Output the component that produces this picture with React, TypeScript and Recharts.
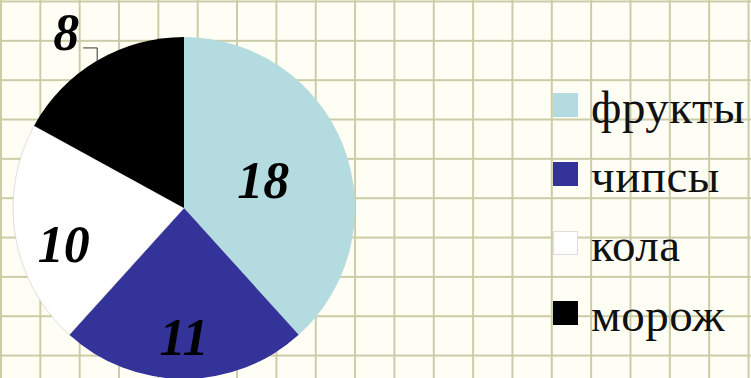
import { Cell, Legend, Pie, PieChart } from "recharts";

const categories = ["фрукты", "чипсы", "кола", "морож"];
const values = [18, 11, 10, 8];
const colors = ["#b4dce0", "#333399", "#ffffff", "#000000"];

const data = categories.map((name, i) => ({ name, value: values[i] }));

const RADIAN = Math.PI / 180;
// radius factor and angle nudge for each value label
const labelPlacement = [
  { r: 0.49, da: -2 },
  { r: 0.76, da: 0 },
  { r: 0.735, da: 7.5 },
  { r: 1.234, da: 3.3 },
];

function renderLabel(props: any) {
  const { cx, cy, midAngle, outerRadius, index, value } = props;
  const p = labelPlacement[index];
  const a = (midAngle + p.da) * RADIAN;
  const x = cx + outerRadius * p.r * Math.cos(a);
  const y = cy - outerRadius * p.r * Math.sin(a);
  return (
    <g key={`lbl-${index}`}>
      {index === 3 && (
        <polyline
          points={`${x + 17},${y + 15} ${x + 31},${y + 15} ${x + 31},${y + 29}`}
          fill="none"
          stroke="#333"
          strokeWidth={1}
        />
      )}
      <text
        x={x}
        y={y}
        textAnchor="middle"
        dominantBaseline="central"
        fontFamily="'Liberation Serif', 'Times New Roman', serif"
        fontWeight="bold"
        fontStyle="italic"
        fontSize={52}
        fill="#000"
      >
        {value}
      </text>
    </g>
  );
}

function renderLegend() {
  return (
    <div style={{ fontFamily: "'Liberation Serif', 'Times New Roman', serif" }}>
      {categories.map((name, i) => (
        <div
          key={name}
          style={{ display: "flex", alignItems: "flex-start", height: 69.2 }}
        >
          <div
            style={{
              width: 25,
              height: 24,
              marginTop: 9,
              flexShrink: 0,
              background: colors[i],
              border: i === 2 ? "1px solid #ddd" : "none",
              boxSizing: "border-box",
            }}
          />
          <span
            style={{
              marginLeft: 13,
              fontSize: 47,
              lineHeight: "47px",
              letterSpacing: 0.5,
              whiteSpace: "nowrap",
              color: "#111",
            }}
          >
            {name}
          </span>
        </div>
      ))}
    </div>
  );
}

export default function App() {
  return (
    <div
      style={{
        position: "absolute",
        left: 0,
        top: 0,
        width: 751,
        height: 378,
        overflow: "hidden",
        backgroundColor: "#fefef5",
        backgroundImage:
          "linear-gradient(to right, #cbcca6 2px, transparent 2px), linear-gradient(to bottom, #cbcca6 2px, transparent 2px)",
        backgroundSize: "39.35px 39.35px",
        backgroundPosition: "0px 0.5px",
      }}
    >
      <PieChart width={751} height={378} margin={{ top: 0, right: 0, bottom: 0, left: 0 }}>
        <Pie
          data={data}
          dataKey="value"
          nameKey="name"
          cx={184}
          cy={208}
          outerRadius={171}
          startAngle={90}
          endAngle={-270}
          stroke="none"
          label={renderLabel}
          labelLine={false}
          isAnimationActive={false}
        >
          {data.map((d, i) => (
            <Cell
              key={d.name}
              fill={colors[i]}
              stroke={i === 2 ? "#c8c8c8" : "none"}
              strokeWidth={i === 2 ? 0.6 : 0}
            />
          ))}
        </Pie>
        <Legend
          content={renderLegend}
          wrapperStyle={{ position: "absolute", left: 553, top: 84, width: 198 }}
        />
      </PieChart>
    </div>
  );
}
